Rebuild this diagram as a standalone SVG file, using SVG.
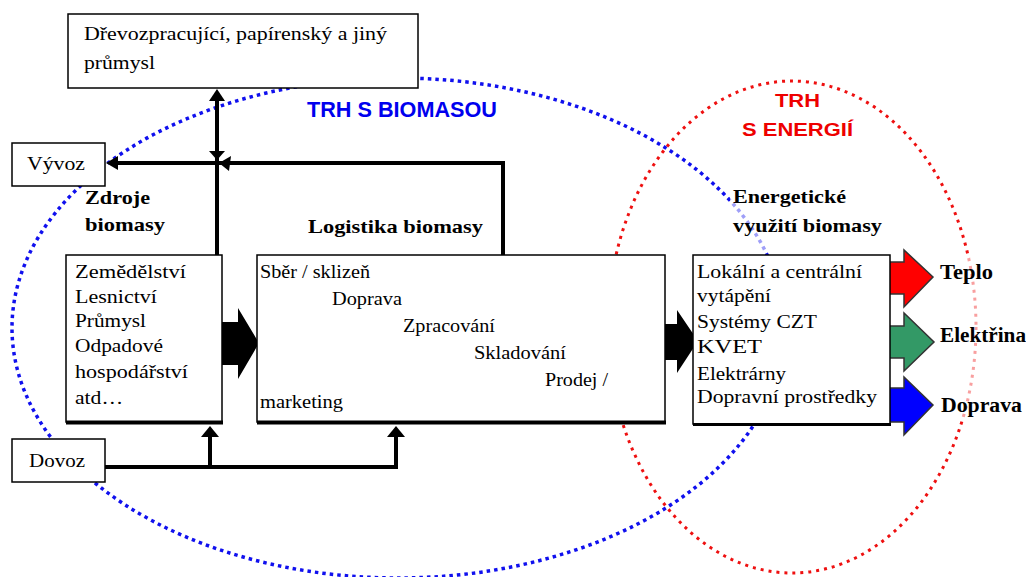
<svg xmlns="http://www.w3.org/2000/svg" width="1026" height="577" viewBox="0 0 1026 577">
<defs>
<style>
.box{fill:#fff;stroke:#000;stroke-width:1.5}
.t{font-family:"Liberation Serif","Times New Roman",serif;font-size:18px;fill:#000}
.te{font-family:"Liberation Serif","Times New Roman",serif;font-size:19px;fill:#000}
.h{font-family:"Liberation Serif","Times New Roman",serif;font-size:19px;font-weight:bold;fill:#000}
.out{font-family:"Liberation Serif","Times New Roman",serif;font-size:20px;font-weight:bold;fill:#000}
.mk{font-family:"Liberation Sans",Arial,sans-serif;font-weight:bold}
.ln{fill:none;stroke:#000;stroke-width:4}
.ah{fill:#000}
.big{fill:#000}
.col{stroke:#333;stroke-width:1.5}
.fade{fill:#fff;opacity:0.6}
</style>
</defs>

<g id="markets">
<ellipse cx="398" cy="328" rx="386" ry="250" fill="none" stroke="#1010ee" stroke-width="3.5" stroke-dasharray="3.5 4"/>
<ellipse cx="792" cy="327" rx="184" ry="246" fill="none" stroke="#ee1010" stroke-width="3" stroke-dasharray="3 5"/>
<rect class="fade" x="730" y="185" width="160" height="66"/>
<rect class="fade" x="936" y="258" width="90" height="162"/>
<text class="mk" x="307" y="117" font-size="22" fill="#0000ee" textLength="190" lengthAdjust="spacingAndGlyphs">TRH S BIOMASOU</text>
<text class="mk" x="775" y="107" font-size="19" fill="#ee0000" textLength="45" lengthAdjust="spacingAndGlyphs">TRH</text>
<text class="mk" x="742" y="136" font-size="19" fill="#ee0000" textLength="111" lengthAdjust="spacingAndGlyphs">S ENERGIÍ</text>
</g>

<g id="connectors">
<polyline class="ln" points="217,255 217,100"/>
<polygon class="ah" points="217,89 209,101 225,101"/>
<polyline class="ln" points="503,255 503,163 117,163"/>
<polygon class="ah" points="106,163 118,156 118,170"/>
<polygon class="ah" points="217,160 209,151 225,151"/>
<polygon class="ah" points="219,163 231,156 229,171"/>
<polyline class="ln" points="105,467 396,467 396,437"/>
<line class="ln" x1="210" y1="467" x2="210" y2="437"/>
<polygon class="ah" points="210,426 201,437 219,437"/>
<polygon class="ah" points="396,426 387,437 405,437"/>
<polygon class="big" points="221,322 238,322 238,308 259,343 238,379 238,365 221,365"/>
<polygon class="big" points="664,324 677,324 677,310 698,341 677,373 677,360 664,360"/>
<polygon class="col" fill="#ff0000" points="889,262 904,262 904,250 933,277 904,307 904,294 889,294"/>
<polygon class="col" fill="#339966" points="889,326 904,326 904,313 934,342 904,371 904,358 889,358"/>
<polygon class="col" fill="#0000ff" points="889,388 904,388 904,377 933,405 904,435 904,422 889,422"/>
</g>

<g id="industry">
<rect class="box" x="68" y="14" width="350" height="74"/>
<text class="t" x="84" y="40" textLength="303" lengthAdjust="spacingAndGlyphs">Dřevozpracující, papírenský a jiný</text>
<text class="t" x="84" y="69" textLength="71" lengthAdjust="spacingAndGlyphs">průmysl</text>
</g>

<g id="vyvoz">
<rect class="box" x="12" y="143" width="93" height="43"/>
<text class="t" x="27" y="170" textLength="58" lengthAdjust="spacingAndGlyphs">Vývoz</text>
</g>

<g id="dovoz">
<rect class="box" x="12" y="439" width="93" height="43"/>
<text class="t" x="29" y="467" textLength="56" lengthAdjust="spacingAndGlyphs">Dovoz</text>
</g>

<g id="zdroje">
<text class="h" x="85" y="204" textLength="65" lengthAdjust="spacingAndGlyphs">Zdroje</text>
<text class="h" x="85" y="231" textLength="80" lengthAdjust="spacingAndGlyphs">biomasy</text>
<rect class="box" x="66" y="255" width="156" height="167"/>
<line x1="66" y1="422.5" x2="223" y2="422.5" stroke="#000" stroke-width="4"/>
<text class="t" x="75" y="278" textLength="111" lengthAdjust="spacingAndGlyphs">Zemědělství</text>
<text class="t" x="75" y="303" textLength="82" lengthAdjust="spacingAndGlyphs">Lesnictví</text>
<text class="t" x="75" y="327" textLength="71" lengthAdjust="spacingAndGlyphs">Průmysl</text>
<text class="t" x="75" y="352" textLength="88" lengthAdjust="spacingAndGlyphs">Odpadové</text>
<text class="t" x="75" y="378" textLength="113" lengthAdjust="spacingAndGlyphs">hospodářství</text>
<text class="t" x="75" y="404" textLength="48" lengthAdjust="spacingAndGlyphs">atd…</text>
</g>

<g id="logistika">
<text class="h" x="308" y="233" textLength="175" lengthAdjust="spacingAndGlyphs">Logistika biomasy</text>
<rect class="box" x="257" y="255" width="408" height="167"/>
<line x1="257" y1="422.5" x2="666" y2="422.5" stroke="#000" stroke-width="4"/>
<text class="t" x="260" y="278" textLength="110" lengthAdjust="spacingAndGlyphs">Sběr / sklizeň</text>
<text class="t" x="332" y="305" textLength="70" lengthAdjust="spacingAndGlyphs">Doprava</text>
<text class="t" x="403" y="332" textLength="92" lengthAdjust="spacingAndGlyphs">Zpracování</text>
<text class="t" x="474" y="359" textLength="92" lengthAdjust="spacingAndGlyphs">Skladování</text>
<text class="t" x="545" y="386" textLength="63" lengthAdjust="spacingAndGlyphs">Prodej /</text>
<text class="t" x="260" y="408" textLength="83" lengthAdjust="spacingAndGlyphs">marketing</text>
</g>

<g id="energie">
<text class="h" x="733" y="203" textLength="113" lengthAdjust="spacingAndGlyphs">Energetické</text>
<text class="h" x="733" y="232" textLength="149" lengthAdjust="spacingAndGlyphs">využití biomasy</text>
<rect class="box" x="693" y="255" width="197" height="169"/>
<line x1="693" y1="424.5" x2="891" y2="424.5" stroke="#000" stroke-width="3"/>
<text class="te" x="697" y="278" textLength="165" lengthAdjust="spacingAndGlyphs">Lokální a centrální</text>
<text class="te" x="697" y="302" textLength="74" lengthAdjust="spacingAndGlyphs">vytápění</text>
<text class="te" x="697" y="328" textLength="120" lengthAdjust="spacingAndGlyphs">Systémy CZT</text>
<text class="te" x="697" y="353" textLength="65" lengthAdjust="spacingAndGlyphs">KVET</text>
<text class="te" x="697" y="380" textLength="89" lengthAdjust="spacingAndGlyphs">Elektrárny</text>
<text class="te" x="697" y="403" textLength="180" lengthAdjust="spacingAndGlyphs">Dopravní prostředky</text>
</g>

<g id="outputs">
<text class="out" x="940" y="279" textLength="53" lengthAdjust="spacingAndGlyphs">Teplo</text>
<text class="out" x="940" y="342" textLength="86" lengthAdjust="spacingAndGlyphs">Elektřina</text>
<text class="out" x="941" y="412" textLength="81" lengthAdjust="spacingAndGlyphs">Doprava</text>
</g>
</svg>
